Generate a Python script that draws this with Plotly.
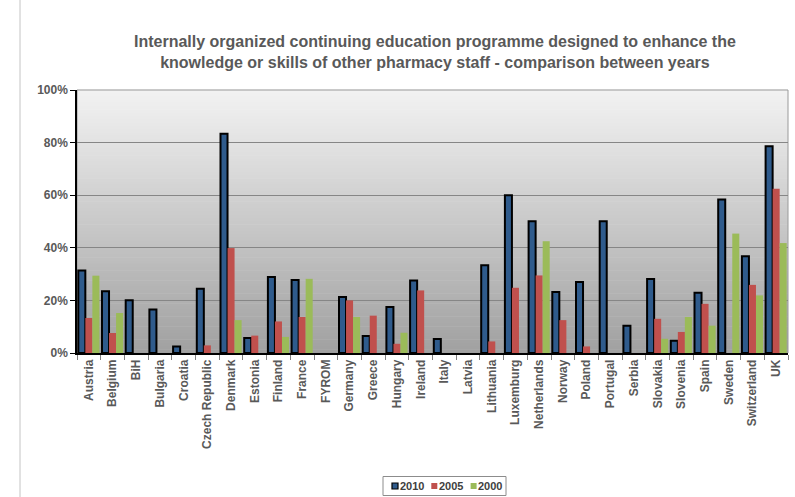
import plotly.graph_objects as go

countries = ["Austria", "Belgium", "BiH", "Bulgaria", "Croatia", "Czech Republic", "Denmark",
             "Estonia", "Finland", "France", "FYROM", "Germany", "Greece", "Hungary", "Ireland",
             "Italy", "Latvia", "Lithuania", "Luxemburg", "Netherlands", "Norway", "Poland",
             "Portugal", "Serbia", "Slovakia", "Slovenia", "Spain", "Sweden", "Switzerland", "UK"]

y2010 = [31.4, 23.5, 20.1, 16.5, 2.5, 24.4, 83.4, 5.7, 28.9, 27.8, None, 21.3, 6.5, 17.5, 27.6,
         5.3, None, 33.4, 60.0, 50.1, 23.2, 27.0, 50.1, 10.4, 28.1, 4.7, 22.9, 58.4, 36.8, 78.6]
y2005 = [13.3, 7.6, None, None, None, 2.9, 39.9, 6.6, 12.0, 13.7, None, 20.0, 14.2, 3.5, 23.8,
         None, None, 4.4, 24.8, 29.5, 12.5, 2.5, None, None, 13.0, 8.0, 18.7, None, 25.9, 62.5]
y2000 = [29.4, 15.2, None, None, None, None, 12.5, None, 6.1, 28.2, None, 13.7, None, 7.7, None,
         None, None, None, None, 42.5, None, None, None, None, 5.4, 13.7, 10.4, 45.4, 21.9, 41.8]

series_names = ["2010", "2005", "2000"]
series_values = [y2010, y2005, y2000]
series_colors = ["#2F5B8C", "#C0504D", "#9BBB59"]

TITLE = ("Internally organized continuing education programme designed to enhance the<br>"
         "knowledge or skills of other pharmacy staff - comparison between years")

FONT = "Liberation Sans, Arial, sans-serif"
GRAY = "#595959"

W, H = 795, 497
ML, MR, MT, MB = 77, 7, 90, 144
PW, PH = W - ML - MR, H - MT - MB


def px(x):
    return (x - ML) / PW


def py(y):
    return (H - MB - y) / PH


fig = go.Figure()
for name, vals, col in zip(series_names, series_values, series_colors):
    fig.add_trace(go.Bar(
        x=countries, y=vals, name=name, showlegend=False,
        marker=dict(color=col,
                    line=dict(color="#000000", width=2 if name == "2010" else 0)),
    ))

# gradient plot-area background
shapes = []
n = 80
top = (243, 243, 243)
bot = (160, 160, 160)
for i in range(n):
    t = (i + 0.5) / n
    c = tuple(round(top[k] + (bot[k] - top[k]) * t) for k in range(3))
    shapes.append(dict(type="rect", xref="paper", yref="paper",
                       x0=0, x1=1, y0=1 - (i + 1) / n, y1=1 - i / n + 0.002,
                       fillcolor="rgb(%d,%d,%d)" % c, line=dict(width=0), layer="below"))
shapes.append(dict(type="rect", xref="paper", yref="paper", x0=0, x1=1, y0=0, y1=1,
                   line=dict(color="#9A9A9A", width=1), fillcolor="rgba(0,0,0,0)", layer="below"))
# chart-area left border
shapes.append(dict(type="line", xref="paper", yref="paper",
                   x0=px(20), x1=px(20), y0=py(H), y1=py(0),
                   line=dict(color="#C4C4C4", width=1), layer="below"))

# compact legend (box, keys, labels)
annotations = [dict(
    text="<b>" + TITLE + "</b>", xref="paper", yref="paper",
    x=0.5035, y=1.1426, xanchor="center", yanchor="middle", showarrow=False,
    font=dict(family=FONT, size=16, color=GRAY))]
LEG_X0, LEG_X1, LEG_Y0, LEG_Y1 = 383, 506, 476.5, 495.5
leg_cy = (LEG_Y0 + LEG_Y1) / 2
shapes.append(dict(type="rect", xref="paper", yref="paper",
                   x0=px(LEG_X0), x1=px(LEG_X1), y0=py(LEG_Y1), y1=py(LEG_Y0),
                   line=dict(color="#8C8C8C", width=1), fillcolor="white"))
for i, (name, col) in enumerate(zip(series_names, series_colors)):
    kx = 392 + i * 39.3
    shapes.append(dict(type="rect", xref="paper", yref="paper",
                       x0=px(kx), x1=px(kx + 6), y0=py(leg_cy + 3), y1=py(leg_cy - 3),
                       fillcolor=col,
                       line=dict(color="#000000", width=1.2 if i == 0 else 0)))
    annotations.append(dict(text="<b>" + name + "</b>", xref="paper", yref="paper",
                            x=px(kx + 6.5), y=py(leg_cy), xanchor="left", yanchor="middle",
                            showarrow=False, xshift=0, borderpad=0,
                            font=dict(family=FONT, size=11, color="#404040")))

fig.update_layout(
    width=W, height=H,
    margin=dict(l=ML, r=MR, t=MT, b=MB),
    paper_bgcolor="white", plot_bgcolor="rgba(0,0,0,0)",
    barmode="group", bargap=0.11, bargroupgap=0.0,
    shapes=shapes, annotations=annotations,
    font=dict(family=FONT, color=GRAY, size=12),
    showlegend=False,
)
fig.update_xaxes(
    tickangle=-90, tickfont=dict(family=FONT, size=12, color=GRAY),
    tickprefix="<b>", ticksuffix="</b>",
    showline=True, linecolor="#000000", linewidth=1.5,
    ticks="outside", tickson="boundaries", ticklen=5, tickcolor="#808080",
    showgrid=False,
)
fig.update_yaxes(
    range=[0, 100], dtick=20, tickprefix="<b>", ticksuffix="%</b>",
    tickfont=dict(family=FONT, size=12, color=GRAY),
    showline=True, linecolor="#000000", linewidth=1.5,
    ticks="outside", ticklen=5, tickcolor="#000000",
    showgrid=True, gridcolor="#868686", gridwidth=1, zeroline=False,
)

fig.write_html("out.html", config={"displayModeBar": False},
               post_script="document.body.style.margin='0';")
